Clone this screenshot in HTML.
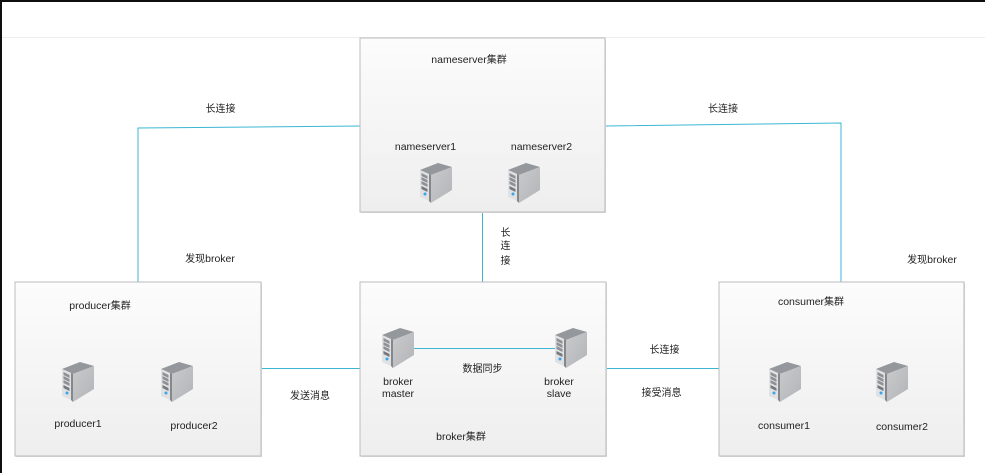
<!DOCTYPE html>
<html>
<head>
<meta charset="utf-8">
<style>
html,body{margin:0;padding:0;background:#fff;width:985px;height:473px;overflow:hidden}
svg{display:block}
text{font-family:"Liberation Sans","Noto Sans CJK SC",sans-serif;font-size:10.5px;fill:#222;text-anchor:middle}
text tspan{font-size:10px}
.z{font-size:10px}
.b{fill:url(#g);stroke:#bcbcbc;stroke-width:1}
.c{fill:none;stroke:#3cb6d3;stroke-width:1}
</style>
</head>
<body>
<svg width="985" height="473" viewBox="0 0 985 473" xmlns="http://www.w3.org/2000/svg">
<defs>
<linearGradient id="g" x1="0" y1="0" x2="0" y2="1"><stop offset="0" stop-color="#fcfcfc"/><stop offset="1" stop-color="#eeeeee"/></linearGradient>
<linearGradient id="r" x1="0" y1="0" x2="1" y2="1"><stop offset="0" stop-color="#c8cacc"/><stop offset="1" stop-color="#b2b4b7"/></linearGradient>
<symbol id="sv" width="32" height="41" viewBox="0 0 32 41" overflow="visible">
<polygon points="0,7 18,0 32,4 11,12" fill="#94979b"/>
<polygon points="11,12 32,4 32,27 11,40" fill="url(#r)"/>
<polygon points="0,7 9,11 9,38 0,34" fill="#dfe1e3"/>
<polygon points="9,11 11,12 11,40 9,38" fill="#85878b"/>
<polygon points="1.500,10 7.500,13 7.500,16 1.500,13" fill="#8d9094"/>
<polygon points="1.500,14 7.500,17 7.500,20 1.500,17" fill="#8d9094"/>
<polygon points="1.500,18 7.500,21 7.500,24 1.500,21" fill="#8d9094"/>
<polygon points="1.500,23 7.500,26 7.500,29 1.500,26" fill="#75787c"/>
<circle cx="5" cy="31" r="1.5" fill="#3aa5e8"/>
</symbol>
</defs>
<rect x="0" y="0" width="985" height="473" fill="#fff"/>
<rect x="0" y="0" width="985" height="2" fill="#0e0e0e"/>
<rect x="0" y="0" width="2" height="473" fill="#0e0e0e"/>
<line x1="2" y1="37.5" x2="985" y2="37.5" stroke="#ececec"/>

<polyline class="c" points="360,126 138,128 138,282"/>
<polyline class="c" points="605,126 841,123 841,282"/>
<line class="c" x1="482.5" y1="212" x2="482.5" y2="282"/>
<line class="c" x1="261" y1="368.5" x2="360" y2="368.5"/>
<line class="c" x1="606" y1="368.5" x2="719" y2="368.5"/>

<rect x="361" y="39" width="245" height="174" fill="#ddd"/>
<rect x="16" y="283" width="246" height="174" fill="#ddd"/>
<rect x="361" y="283" width="246" height="174" fill="#ddd"/>
<rect x="720" y="283" width="245" height="174" fill="#ddd"/>
<rect class="b" x="360" y="38" width="245" height="174"/>
<rect class="b" x="15" y="282" width="246" height="174"/>
<rect class="b" x="360" y="282" width="246" height="174"/>
<rect class="b" x="719" y="282" width="245" height="174"/>

<line class="c" x1="414" y1="348.5" x2="556" y2="348.5"/>

<use href="#sv" x="420" y="163" width="32" height="41"/>
<use href="#sv" x="508" y="163" width="32" height="41"/>
<use href="#sv" x="62" y="362" width="32" height="41"/>
<use href="#sv" x="161" y="362" width="32" height="41"/>
<use href="#sv" x="382" y="328" width="32" height="41"/>
<use href="#sv" x="555" y="328" width="32" height="41"/>
<use href="#sv" x="769" y="362" width="32" height="41"/>
<use href="#sv" x="876" y="362" width="32" height="41"/>

<text x="469" y="63">nameserver<tspan>集群</tspan></text>
<text x="425.500" y="150">nameserver1</text>
<text x="541.500" y="150">nameserver2</text>
<text x="100" y="309">producer<tspan>集群</tspan></text>
<text x="78" y="427">producer1</text>
<text x="194" y="429">producer2</text>
<text x="398" y="385">broker</text>
<text x="398" y="397">master</text>
<text x="559" y="385">broker</text>
<text x="559" y="397">slave</text>
<text class="z" x="482.500" y="372">数据同步</text>
<text x="461" y="440">broker<tspan>集群</tspan></text>
<text x="811" y="305">consumer<tspan>集群</tspan></text>
<text x="784" y="429">consumer1</text>
<text x="902" y="430">consumer2</text>

<text class="z" x="220.500" y="112">长连接</text>
<text class="z" x="723" y="112">长连接</text>
<text x="210" y="262"><tspan>发现</tspan>broker</text>
<text x="932" y="263"><tspan>发现</tspan>broker</text>
<text class="z" x="505.500" y="236">长</text>
<text class="z" x="505.500" y="249">连</text>
<text class="z" x="505.500" y="264">接</text>
<text class="z" x="310" y="399">发送消息</text>
<text class="z" x="664.500" y="353">长连接</text>
<text class="z" x="661.500" y="396">接受消息</text>
</svg>
</body>
</html>
